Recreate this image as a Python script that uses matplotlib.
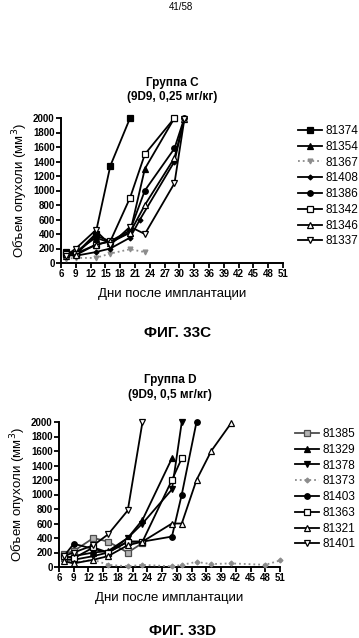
import matplotlib
matplotlib.use("Agg")
import matplotlib.pyplot as plt

plt.rcParams['font.family'] = ['Liberation Sans', 'DejaVu Sans']

# ---------------- Data: Group C ----------------
c_names = ["81374", "81354", "81367", "81408", "81386", "81342", "81346", "81337"]
c_days = [
    [7, 9, 13, 16, 20],
    [7, 9, 13, 16, 20, 23, 29],
    [7, 9, 13, 16, 20, 23],
    [7, 9, 13, 16, 20, 22, 29, 31],
    [7, 9, 13, 16, 20, 23, 29, 31],
    [7, 9, 13, 16, 20, 23, 29],
    [7, 9, 13, 16, 20, 23, 29, 31],
    [7, 9, 13, 16, 20, 23, 29, 31],
]
c_vals = [
    [150, 130, 400, 1340, 2000],
    [140, 150, 350, 280, 420, 1300, 2000],
    [60, 70, 70, 130, 190, 150],
    [120, 100, 150, 200, 350, 600, 1400, 2000],
    [150, 120, 380, 300, 450, 1000, 1580, 2000],
    [130, 130, 250, 300, 900, 1500, 2000],
    [100, 110, 250, 300, 420, 800, 1450, 1980],
    [100, 200, 450, 250, 500, 400, 1100, 1980],
]

# ---------------- Data: Group D ----------------
d_names = ["81385", "81329", "81378", "81373", "81403", "81363", "81321", "81401"]
d_days = [
    [7, 9, 13, 16, 20, 23],
    [7, 9, 13, 16, 20, 23, 29],
    [7, 9, 13, 16, 20, 23, 29, 31],
    [7, 9, 13, 16, 20, 23, 29, 31, 34, 37, 41, 48, 51],
    [7, 9, 13, 16, 20, 23, 29, 31, 34],
    [7, 9, 13, 16, 20, 23, 29, 31],
    [7, 9, 13, 16, 20, 23, 29, 31, 34, 37, 41],
    [7, 9, 13, 16, 20, 23],
]
d_vals = [
    [180, 220, 400, 350, 200, 330],
    [120, 150, 200, 220, 400, 650, 1500],
    [100, 100, 150, 200, 400, 600, 1070, 2000],
    [80, 60, 100, 30, 10, 30, 10, 30, 70, 40, 50, 30, 90],
    [150, 320, 250, 200, 350, 350, 420, 1000, 2000],
    [150, 120, 270, 200, 350, 350, 1200, 1500],
    [80, 50, 100, 150, 300, 350, 600, 600, 1200, 1600, 1980],
    [150, 200, 300, 450, 780, 2000],
]

x_ticks = list(range(6, 52, 3))
y_ticks = list(range(0, 2001, 200))

# styles: (marker, facecolor, linecolor, linestyle, markersize)
c_styles = [
    ('s', 'black', 'black', '-', 4),
    ('^', 'black', 'black', '-', 4),
    ('v', '0.55', '0.55', ':', 3.5),
    ('D', 'black', 'black', '-', 2.5),
    ('o', 'black', 'black', '-', 4),
    ('s', 'white', 'black', '-', 4),
    ('^', 'white', 'black', '-', 4),
    ('v', 'white', 'black', '-', 4),
]
d_styles = [
    ('s', '0.7', '0.3', '-', 4),
    ('^', 'black', 'black', '-', 4),
    ('v', 'black', 'black', '-', 4),
    ('D', '0.55', '0.55', ':', 2.5),
    ('o', 'black', 'black', '-', 4),
    ('s', 'white', 'black', '-', 4),
    ('^', 'white', 'black', '-', 4),
    ('v', 'white', 'black', '-', 4),
]

fig = plt.figure(figsize=(3.59, 6.38), dpi=100)


def draw(rect, names, days, vals, styles, leg_anchor):
    ax = fig.add_axes(rect)
    for n, d, v, st in zip(names, days, vals, styles):
        m, fc, lc, ls, ms = st
        ax.plot(d, v, marker=m, color=lc, mfc=fc, mec=lc, ls=ls, lw=1.3,
                ms=ms, mew=0.9, label=n, clip_on=False, zorder=3)
    ax.set_xlim(6, 51)
    ax.set_ylim(0, 2000)
    ax.set_xticks(x_ticks)
    ax.set_yticks(y_ticks)
    for s in ['top', 'right']:
        ax.spines[s].set_visible(False)
    for s in ['left', 'bottom']:
        ax.spines[s].set_linewidth(1.4)
    ax.tick_params(axis='both', direction='out', length=3.5, width=1.3,
                   pad=1, labelsize=7)
    for lab in ax.get_xticklabels() + ax.get_yticklabels():
        lab.set_fontweight('bold')
    ax.set_xlabel("Дни после имплантации", fontsize=9.5, labelpad=6)
    ax.set_ylabel("Объем опухоли (мм$^3$)", fontsize=9.5, labelpad=2)
    ax.legend(loc='upper left', bbox_to_anchor=leg_anchor,
              bbox_transform=fig.transFigure, frameon=False, fontsize=8.5,
              handlelength=2.0, handletextpad=0.3, labelspacing=0.32,
              borderpad=0, borderaxespad=0)
    return ax


axC = draw([61 / 359, 1 - 263 / 638, 222 / 359, 145 / 638],
           c_names, c_days, c_vals, c_styles, (298 / 359, 1 - 125 / 638))
axD = draw([59 / 359, 1 - 567 / 638, 221 / 359, 145 / 638],
           d_names, d_days, d_vals, d_styles, (295 / 359, 1 - 428 / 638))

fig.text(181 / 359, 1 - 7 / 638, "41/58", ha='center', va='center', fontsize=7)
fig.text(172 / 359, 1 - 83 / 638, "Группа C", ha='center', va='center',
         fontsize=8.5, fontweight='bold')
fig.text(172 / 359, 1 - 97 / 638, "(9D9, 0,25 мг/кг)", ha='center', va='center',
         fontsize=8.5, fontweight='bold')
fig.text(178 / 359, 1 - 333 / 638, "ФИГ. 33C", ha='center', va='center',
         fontsize=11, fontweight='bold')
fig.text(170 / 359, 1 - 380 / 638, "Группа D", ha='center', va='center',
         fontsize=8.5, fontweight='bold')
fig.text(170 / 359, 1 - 395 / 638, "(9D9, 0,5 мг/кг)", ha='center', va='center',
         fontsize=8.5, fontweight='bold')
fig.text(183 / 359, 1 - 631 / 638, "ФИГ. 33D", ha='center', va='center',
         fontsize=11, fontweight='bold')

fig.savefig("out.png", dpi=100, facecolor='white')
